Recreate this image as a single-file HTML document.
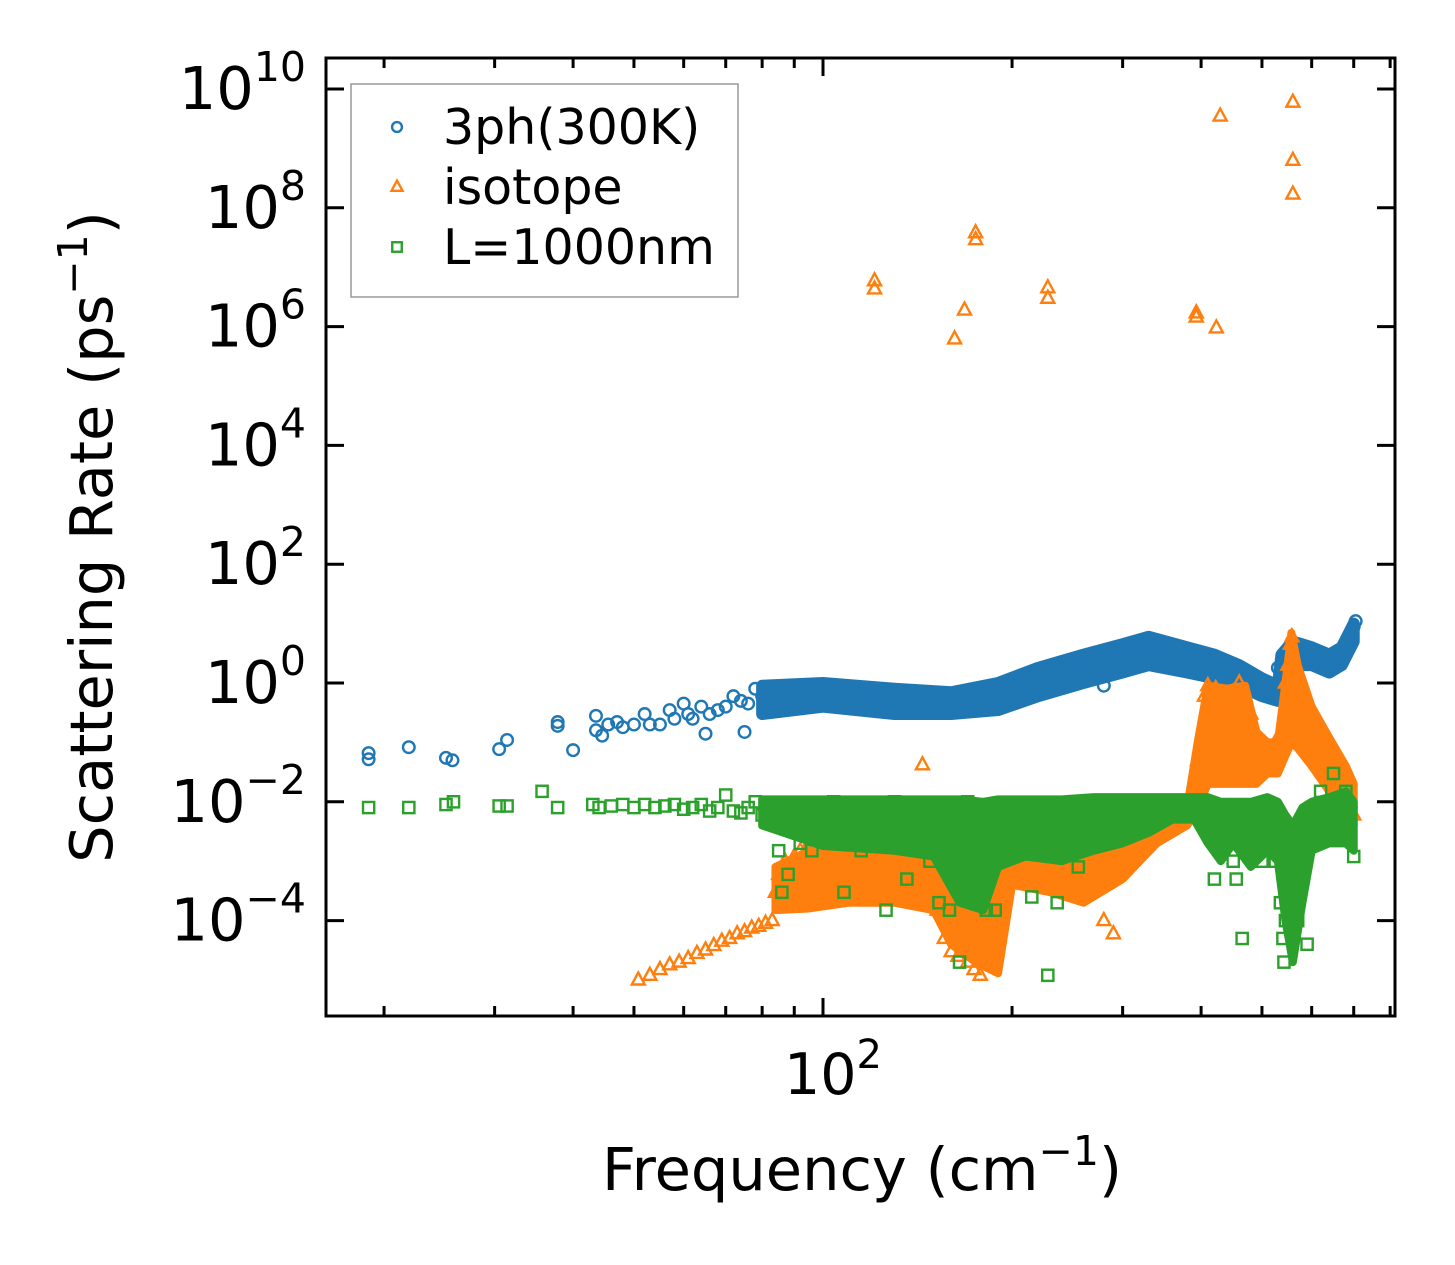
<!DOCTYPE html>
<html><head><meta charset="utf-8"><style>
html,body{margin:0;padding:0;background:#fff;}
svg{display:block;font-family:"DejaVu Sans","Liberation Sans",sans-serif;}
</style></head><body>
<svg id="chart" width="1455" height="1265" viewBox="0 0 1455 1265" xmlns="http://www.w3.org/2000/svg">
<rect width="1455" height="1265" fill="#fff"/>
<g id="marks"></g>
<g id="axes"></g>
</svg>
<script>
const xMajorTicks=[100];
const xMinorTicks=[20,30,40,50,60,70,80,90,200,300,400,500,600,700,800];
const yTickExps=[-4,-2,0,2,4,6,8,10];
const seriesNames=["3ph(300K)","isotope","L=1000nm"];
// dense band envelopes: freq, low, high
const blueBandF=[80,100,130,160,190,220,260,300,330,380,420,460,500,530,537,560,600,640,670,700];
const blueBandLo=[0.3,0.4,0.3,0.3,0.35,0.6,1.0,1.5,2,1.5,1.2,0.9,0.6,0.5,1.5,2,2,1.5,2,5];
const blueBandHi=[0.9,1.0,0.8,0.7,1.0,1.8,3,4.5,6,4,3,2,1.2,0.9,3,5,4,3,4,10];
const orangeBandF=[84,95,110,130,150,160,175,190,200,230,260,300,340,380,395,410,440,470,490,510,530,545,557,570,600,640,680,700];
const orangeBandLo=[1.5e-4,1.6e-4,2e-4,2e-4,1.5e-4,4e-5,2e-5,1.3e-5,4e-4,3e-4,2e-4,5e-4,2e-3,4e-3,8e-3,0.02,0.02,0.02,0.02,0.03,0.03,0.06,0.1,0.08,0.04,0.015,0.006,0.004];
const orangeBandHi=[8e-4,1.5e-3,2e-3,2e-3,2.5e-3,1e-3,8e-4,1e-3,2e-3,2.5e-3,3e-3,5e-3,6e-3,8e-3,0.1,0.9,0.8,0.9,0.15,0.1,0.1,1,7,2,0.4,0.12,0.04,0.02];
const greenBandF=[80,100,130,150,165,180,190,210,240,270,300,330,360,390,410,430,450,480,510,530,545,560,580,600,640,680,700];
const greenBandLo=[4e-3,1.8e-3,1.5e-3,1.2e-3,2e-4,1.5e-4,8e-4,1.2e-3,1e-3,1.5e-3,2e-3,3e-3,5e-3,5e-3,2e-3,1e-3,2e-3,8e-4,1.5e-3,1e-3,1e-4,2e-5,2e-4,1.5e-3,2e-3,2e-3,1.5e-3];
const greenBandHi=[1.1e-2,1.1e-2,1.1e-2,1.1e-2,1.1e-2,1e-2,1.1e-2,1.1e-2,1.1e-2,1.2e-2,1.2e-2,1.2e-2,1.2e-2,1.2e-2,1.2e-2,1e-2,1e-2,1e-2,1.2e-2,1e-2,6e-3,4e-3,8e-3,1e-2,1.2e-2,1.5e-2,1e-2];
// scatter points
const blueF=[18.9,18.9,21.9,25.1,25.7,30.5,31.4,37.8,37.8,40,43.5,43.5,44.5,45.5,47,48,50,52,53,55,57,58,60,61,62,64,65,66,68,70,72,74,75,76,78,80,82,84,86,88,90,92,95,98,100,103,106,110,115,118,122,125,130,135,140,145,150,155,160,165,170,175,180,185,190,195,200,205,210,215,220,225,230,235,240,245,250,255,260,265,270,275,280,285,290,295,300,305,310,315,320,325,330,335,340,345,350,360,370,380,390,400,410,420,430,440,450,460,470,480,490,500,510,520,530,540,550,555,560,565,570,580,590,600,610,620,630,640,650,660,670,680,690,700,705];
const blueV=[0.066,0.052,0.083,0.055,0.05,0.077,0.11,0.22,0.19,0.074,0.28,0.16,0.13,0.2,0.22,0.18,0.2,0.3,0.2,0.2,0.35,0.25,0.45,0.3,0.25,0.4,0.14,0.3,0.35,0.4,0.6,0.5,0.15,0.45,0.8,0.6,0.5,0.8,0.7,0.9,0.75,0.85,0.9,0.8,0.85,0.9,0.75,0.8,0.65,0.7,0.6,0.35,0.55,0.45,0.5,0.4,0.45,0.55,0.4,0.6,0.5,0.65,0.7,0.45,0.8,0.9,0.75,1.0,1.2,1.3,1.5,1.7,1.4,1.8,1.6,2.0,2.2,1.9,2.4,2.1,2.8,2.5,0.9,3.0,2.7,3.3,3.5,3.0,4.0,3.6,4.8,4.2,5.0,3.8,3.5,4.0,3.2,3.0,2.8,3.2,2.6,2.2,2.4,1.8,2.0,1.6,1.4,1.2,1.0,0.9,0.8,0.7,0.75,0.6,1.8,2.3,2.0,3.5,3.2,4.0,2.5,3.0,2.5,2.8,2.3,2.0,2.2,1.8,2.0,2.3,3.0,4.5,6,9,11];
const orangeF=[120.8,120.8,162,168,175,175,228,228,393,393,423,429,560,560,560,144,50.8,53,55,57,59,61,63,65,67,69,71,73,75,77,79,81,83,84,85,87,88,90,92,94,95,97,100,104,108,112,118,122,128,132,138,143,148,152,156,160,164,168,170,174,178,182,186,190,200,210,220,230,235,245,255,265,275,280,285,290,295,305,315,325,395,405,410,418,422,428,440,450,460,470,480,490,495,500,530,545,550,555,558,600,620,640,660,680,690,700];
const orangeV=[5.9e6,4.3e6,6.2e5,1.9e6,3.8e7,2.9e7,4.5e6,3e6,1.7e6,1.45e6,9.5e5,3.5e9,6e9,6.3e8,1.7e8,0.042,1e-5,1.2e-5,1.5e-5,1.8e-5,2e-5,2.3e-5,2.8e-5,3.2e-5,3.8e-5,4.5e-5,5e-5,6e-5,6.5e-5,7.5e-5,8e-5,9e-5,1e-4,3e-4,6e-4,1e-3,8e-4,1.2e-3,1.5e-3,1e-3,2e-3,1.8e-3,2e-3,2.5e-3,1.5e-3,2.2e-3,1.8e-3,2.5e-3,1.2e-3,2e-3,3e-3,2e-3,2.5e-3,1.5e-4,5e-5,3e-5,2.5e-5,3e-5,2e-5,1.5e-5,1.2e-5,1e-3,2e-3,1.5e-3,2e-3,1.5e-3,2e-3,1e-3,3e-3,2e-3,3e-3,1.5e-3,2e-3,1e-4,3e-3,6e-5,4e-3,5e-3,6e-3,8e-3,0.05,0.6,0.9,0.5,0.8,0.5,0.4,0.7,1.0,0.6,0.3,0.1,0.03,0.1,0.12,1.0,2.0,4.5,6,0.1,0.05,0.03,0.02,0.012,0.01,0.006];
const greenF=[18.9,21.9,25.1,25.8,30.5,31.4,35.7,37.8,43,44,46,48,50,52,54,56,58,60,62,64,66,68,70,72,74,76,78,80,82,84,85,86,88,90,92,94,96,98,100,104,108,112,115,120,126,130,136,142,148,153,159,165,167,170,176,182,188,193,200,215,228,236,250,255,275,285,300,325,345,360,380,405,420,440,450,455,465,480,500,525,535,540,542,545,548,560,570,590,600,620,650,680,700];
const greenV=[8e-3,8e-3,9e-3,1e-2,8.5e-3,8.5e-3,1.5e-2,8e-3,9e-3,8e-3,8.5e-3,9e-3,8e-3,9e-3,8e-3,8.5e-3,9e-3,7.5e-3,8e-3,9e-3,7e-3,8e-3,1.3e-2,7e-3,6.5e-3,8e-3,1e-2,6e-3,8e-3,5e-3,1.5e-3,3e-4,6e-4,4e-3,2e-3,8e-3,1.5e-3,5e-3,3e-3,1e-2,3e-4,6e-3,1.5e-3,8e-3,1.5e-4,1e-2,5e-4,8e-3,1e-3,2e-4,1.5e-4,2e-5,8e-4,1e-2,3e-4,1.5e-4,1.5e-4,8e-3,4e-3,2.5e-4,1.2e-5,2e-4,6e-3,8e-4,6e-3,8e-3,1e-2,1e-2,1e-2,1e-2,1e-2,8e-3,5e-4,8e-3,1e-3,5e-4,5e-5,5e-3,1e-3,1e-3,2e-4,5e-5,2e-5,1e-4,3e-4,5e-4,1e-4,4e-5,8e-3,1.5e-2,3e-2,1.5e-2,1.2e-3];

const X0=823,XD=628,Y0=683,YD=59.4,L=326,R=1395,T=58,B=1016;
const sx=f=>X0+XD*(Math.log10(f)-2);
const sy=v=>Y0-YD*Math.log10(v);
const NS="http://www.w3.org/2000/svg";
const colors=["#1f77b4","#ff7f0e","#2ca02c"];
function mk(tag,attrs,parent){const e=document.createElementNS(NS,tag);for(const k in attrs)e.setAttribute(k,attrs[k]);parent.appendChild(e);return e;}
const marks=document.getElementById('marks'),axes=document.getElementById('axes');
function marker(kind,cx,cy,c,parent,sc){
  sc=sc||1;let e;
  if(kind===0)e=mk('circle',{cx:cx,cy:cy,r:5.8*sc,fill:'none',stroke:c,'stroke-width':2.4},parent);
  else if(kind===1)e=mk('polygon',{points:`${cx},${cy-7.5*sc} ${cx+6.5*sc},${cy+4.5*sc} ${cx-6.5*sc},${cy+4.5*sc}`,fill:'none',stroke:c,'stroke-width':2.4},parent);
  else e=mk('rect',{x:cx-5.6*sc,y:cy-5.6*sc,width:11.2*sc,height:11.2*sc,fill:'none',stroke:c,'stroke-width':2.4},parent);
  return e;
}
const SF=[blueF,orangeF,greenF],SV=[blueV,orangeV,greenV];
const BF=[blueBandF,orangeBandF,greenBandF],BL=[blueBandLo,orangeBandLo,greenBandLo],BH=[blueBandHi,orangeBandHi,greenBandHi];
const gNames=['series-3ph','series-isotope','series-boundary'];
for(let s=0;s<3;s++){
  const g=mk('g',{},marks);
  
  
  const F=BF[s],Lo=BL[s],Hi=BH[s];
  const pts=F.map((f,i)=>`${sx(f)},${sy(Hi[i])}`).concat(F.map((f,i)=>`${sx(f)},${sy(Lo[i])}`).reverse()).join(' ');
  const p=mk('polygon',{points:pts,fill:colors[s],stroke:colors[s],'stroke-width':s===0?12:8,'stroke-linejoin':'round'},g);
  
  
  SF[s].forEach((f,i)=>{const m=marker(s,sx(f),sy(SV[s][i]),colors[s],g);
    
    });
}
// axes
const frame=mk('rect',{x:L,y:T,width:R-L,height:B-T,fill:'none',stroke:'#000','stroke-width':3},axes);


xMajorTicks.forEach(f=>{const x=sx(f);
mk('line',{x1:x,y1:B,x2:x,y2:B-18,stroke:'#000','stroke-width':3},axes);
mk('line',{x1:x,y1:T,x2:x,y2:T+18,stroke:'#000','stroke-width':3},axes);
const t=mk('text',{x:x+10,y:1094,'font-size':57,'text-anchor':'middle'},axes);
t.innerHTML='10<tspan dy="-26" font-size="40">2</tspan>';

});
xMinorTicks.forEach(f=>{const x=sx(f);
mk('line',{x1:x,y1:B,x2:x,y2:B-10,stroke:'#000','stroke-width':3},axes);
mk('line',{x1:x,y1:T,x2:x,y2:T+10,stroke:'#000','stroke-width':3},axes);});
yTickExps.forEach(e=>{const y=Y0-YD*e;
mk('line',{x1:L,y1:y,x2:L+18,y2:y,stroke:'#000','stroke-width':3},axes);
mk('line',{x1:R,y1:y,x2:R-18,y2:y,stroke:'#000','stroke-width':3},axes);
const sup=String(e).replace('-','\u2212');
const supW=(e<0?0.838+0.636*(sup.length-1):0.636*sup.length)*41;
const t=mk('text',{x:L-20-supW,y:y+20,'font-size':59,'text-anchor':'end'},axes);
t.textContent='10';


const s=mk('text',{x:L-20,y:y-8,'font-size':41,'text-anchor':'end'},axes);
s.textContent=sup;});
const xl=mk('text',{x:862,y:1190,'font-size':59,'text-anchor':'middle'},axes);
xl.innerHTML='Frequency (cm<tspan dy="-25" font-size="41">\u22121</tspan><tspan dy="25">)</tspan>';


const yl=mk('text',{x:0,y:0,'font-size':59,'text-anchor':'middle',transform:'translate(112,537) rotate(-90)'},axes);
yl.innerHTML='Scattering Rate (ps<tspan dy="-25" font-size="41">\u22121</tspan><tspan dy="25">)</tspan>';


// legend
const lg=mk('g',{},axes);


mk('rect',{x:351,y:84,width:387,height:213,fill:'#fff','fill-opacity':0.8,stroke:'#999','stroke-width':1.5},lg);
seriesNames.forEach((n,i)=>{const y=127+60*i;
const ent=mk('g',{},lg);


marker(i,397,y,colors[i],ent,0.85);
const t=mk('text',{x:443,y:y+17,'font-size':49},ent);t.textContent=n;});
</script>
</body></html>
